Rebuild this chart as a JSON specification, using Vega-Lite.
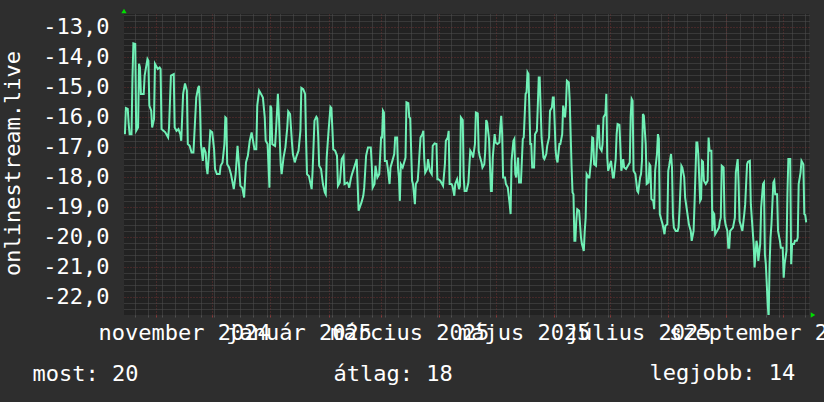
{
"$schema":"https://vega.github.io/schema/vega-lite/v6.json",
"width":685,"height":301,
"autosize":{"type":"none"},
"padding":{"left":124,"top":14,"right":15,"bottom":87},
"background":"#2e2e2e",
"config":{"view":{"fill":"#222222","stroke":null},"font":"DejaVu Sans Mono"},
"layer":[
{
"data":{"values":[
{"t":"2024-10-15T12:00","v":-16.58},{"t":"2024-10-16T00:00","v":-15.71},{"t":"2024-10-17T00:00","v":-15.74},{"t":"2024-10-17T12:00","v":-16.24},{"t":"2024-10-18T00:00","v":-16.58},{"t":"2024-10-19T00:00","v":-16.58},{"t":"2024-10-19T12:00","v":-14.74},{"t":"2024-10-20T00:00","v":-13.56},{"t":"2024-10-21T00:00","v":-13.58},{"t":"2024-10-21T12:00","v":-16.47},{"t":"2024-10-22T12:00","v":-16.36},{"t":"2024-10-23T00:00","v":-14.24},{"t":"2024-10-23T12:00","v":-14.36},{"t":"2024-10-24T00:00","v":-15.24},{"t":"2024-10-25T12:00","v":-15.24},{"t":"2024-10-26T00:00","v":-14.63},{"t":"2024-10-27T12:00","v":-14.08},{"t":"2024-10-28T00:00","v":-14.14},{"t":"2024-10-28T12:00","v":-15.63},{"t":"2024-10-29T12:00","v":-15.8},{"t":"2024-10-30T00:00","v":-16.36},{"t":"2024-10-31T00:00","v":-16.08},{"t":"2024-10-31T12:00","v":-14.24},{"t":"2024-11-02T00:00","v":-14.41},{"t":"2024-11-03T00:00","v":-14.36},{"t":"2024-11-03T12:00","v":-14.41},{"t":"2024-11-04T00:00","v":-16.41},{"t":"2024-11-06T00:00","v":-16.52},{"t":"2024-11-07T12:00","v":-16.69},{"t":"2024-11-08T00:00","v":-16.36},{"t":"2024-11-09T00:00","v":-14.63},{"t":"2024-11-10T12:00","v":-14.58},{"t":"2024-11-11T00:00","v":-16.36},{"t":"2024-11-12T00:00","v":-16.47},{"t":"2024-11-13T00:00","v":-16.41},{"t":"2024-11-14T00:00","v":-16.58},{"t":"2024-11-14T12:00","v":-16.8},{"t":"2024-11-15T12:00","v":-15.24},{"t":"2024-11-16T12:00","v":-14.89},{"t":"2024-11-17T12:00","v":-15.13},{"t":"2024-11-18T00:00","v":-16.91},{"t":"2024-11-19T00:00","v":-16.97},{"t":"2024-11-20T00:00","v":-17.19},{"t":"2024-11-21T00:00","v":-17.19},{"t":"2024-11-22T12:00","v":-15.36},{"t":"2024-11-23T12:00","v":-15.04},{"t":"2024-11-24T00:00","v":-14.97},{"t":"2024-11-24T12:00","v":-15.69},{"t":"2024-11-25T00:00","v":-16.91},{"t":"2024-11-26T00:00","v":-17.47},{"t":"2024-11-26T12:00","v":-17.02},{"t":"2024-11-27T12:00","v":-17.19},{"t":"2024-11-28T00:00","v":-17.69},{"t":"2024-11-28T12:00","v":-17.91},{"t":"2024-11-29T00:00","v":-17.47},{"t":"2024-11-30T00:00","v":-16.47},{"t":"2024-12-01T00:00","v":-16.52},{"t":"2024-12-02T00:00","v":-17.08},{"t":"2024-12-02T12:00","v":-17.74},{"t":"2024-12-03T12:00","v":-17.91},{"t":"2024-12-05T00:00","v":-17.91},{"t":"2024-12-05T12:00","v":-17.63},{"t":"2024-12-06T12:00","v":-17.52},{"t":"2024-12-07T12:00","v":-16.91},{"t":"2024-12-08T00:00","v":-16.02},{"t":"2024-12-08T12:00","v":-16.05},{"t":"2024-12-09T00:00","v":-17.58},{"t":"2024-12-10T00:00","v":-17.69},{"t":"2024-12-11T00:00","v":-17.91},{"t":"2024-12-12T12:00","v":-18.41},{"t":"2024-12-13T12:00","v":-17.91},{"t":"2024-12-14T12:00","v":-16.97},{"t":"2024-12-15T12:00","v":-17.8},{"t":"2024-12-16T00:00","v":-18.3},{"t":"2024-12-17T00:00","v":-18.36},{"t":"2024-12-18T00:00","v":-18.69},{"t":"2024-12-19T00:00","v":-17.52},{"t":"2024-12-20T00:00","v":-17.3},{"t":"2024-12-21T00:00","v":-16.8},{"t":"2024-12-22T00:00","v":-16.52},{"t":"2024-12-23T12:00","v":-17.08},{"t":"2024-12-24T12:00","v":-17.08},{"t":"2024-12-25T00:00","v":-15.63},{"t":"2024-12-26T00:00","v":-15.13},{"t":"2024-12-27T00:00","v":-15.24},{"t":"2024-12-28T00:00","v":-15.36},{"t":"2024-12-29T00:00","v":-16.02},{"t":"2024-12-29T12:00","v":-16.8},{"t":"2024-12-30T12:00","v":-16.91},{"t":"2024-12-31T12:00","v":-18.36},
{"t":"2025-01-01T00:00","v":-15.63},{"t":"2025-01-01T12:00","v":-15.71},{"t":"2025-01-02T00:00","v":-16.91},{"t":"2025-01-03T12:00","v":-16.97},{"t":"2025-01-04T00:00","v":-16.47},{"t":"2025-01-05T00:00","v":-15.24},{"t":"2025-01-05T12:00","v":-15.91},{"t":"2025-01-06T12:00","v":-17.58},{"t":"2025-01-07T00:00","v":-17.91},{"t":"2025-01-08T00:00","v":-17.36},{"t":"2025-01-09T00:00","v":-17.02},{"t":"2025-01-10T00:00","v":-16.36},{"t":"2025-01-10T12:00","v":-15.82},{"t":"2025-01-11T12:00","v":-15.91},{"t":"2025-01-12T12:00","v":-16.86},{"t":"2025-01-13T00:00","v":-17.24},{"t":"2025-01-14T00:00","v":-17.52},{"t":"2025-01-15T00:00","v":-17.3},{"t":"2025-01-16T00:00","v":-17.13},{"t":"2025-01-17T00:00","v":-16.47},{"t":"2025-01-17T12:00","v":-15.04},{"t":"2025-01-18T12:00","v":-15.08},{"t":"2025-01-19T12:00","v":-15.24},{"t":"2025-01-20T00:00","v":-16.69},{"t":"2025-01-20T12:00","v":-17.91},{"t":"2025-01-21T12:00","v":-17.97},{"t":"2025-01-23T00:00","v":-18.41},{"t":"2025-01-23T12:00","v":-17.8},{"t":"2025-01-24T12:00","v":-16.13},{"t":"2025-01-25T12:00","v":-16.0},{"t":"2025-01-26T00:00","v":-16.05},{"t":"2025-01-26T12:00","v":-16.69},{"t":"2025-01-27T00:00","v":-17.63},{"t":"2025-01-28T00:00","v":-17.74},{"t":"2025-01-29T00:00","v":-18.24},{"t":"2025-01-30T00:00","v":-18.52},{"t":"2025-01-30T12:00","v":-18.58},{"t":"2025-01-31T00:00","v":-17.36},{"t":"2025-02-01T00:00","v":-16.47},{"t":"2025-02-02T00:00","v":-15.67},{"t":"2025-02-02T12:00","v":-15.71},{"t":"2025-02-03T00:00","v":-16.36},{"t":"2025-02-03T12:00","v":-17.08},{"t":"2025-02-04T12:00","v":-17.13},{"t":"2025-02-05T12:00","v":-17.3},{"t":"2025-02-06T00:00","v":-18.3},{"t":"2025-02-07T00:00","v":-18.19},{"t":"2025-02-08T00:00","v":-17.41},{"t":"2025-02-09T00:00","v":-17.3},{"t":"2025-02-09T12:00","v":-18.24},{"t":"2025-02-11T00:00","v":-18.19},{"t":"2025-02-11T12:00","v":-18.24},{"t":"2025-02-12T00:00","v":-18.36},{"t":"2025-02-13T00:00","v":-18.02},{"t":"2025-02-13T12:00","v":-17.91},{"t":"2025-02-15T12:00","v":-17.52},{"t":"2025-02-16T00:00","v":-17.41},{"t":"2025-02-16T12:00","v":-18.24},{"t":"2025-02-17T00:00","v":-19.13},{"t":"2025-02-18T12:00","v":-18.86},{"t":"2025-02-19T12:00","v":-18.63},{"t":"2025-02-20T00:00","v":-18.36},{"t":"2025-02-21T00:00","v":-17.3},{"t":"2025-02-22T00:00","v":-17.02},{"t":"2025-02-23T12:00","v":-17.02},{"t":"2025-02-24T00:00","v":-17.58},{"t":"2025-02-24T12:00","v":-18.36},{"t":"2025-02-25T12:00","v":-18.24},{"t":"2025-02-26T00:00","v":-17.63},{"t":"2025-02-27T00:00","v":-18.02},{"t":"2025-02-28T00:00","v":-17.91},
{"t":"2025-03-01T00:00","v":-16.69},{"t":"2025-03-01T12:00","v":-16.69},{"t":"2025-03-02T00:00","v":-15.8},{"t":"2025-03-02T12:00","v":-15.86},{"t":"2025-03-03T00:00","v":-17.47},{"t":"2025-03-04T00:00","v":-17.47},{"t":"2025-03-04T12:00","v":-17.69},{"t":"2025-03-05T12:00","v":-18.24},{"t":"2025-03-06T00:00","v":-17.69},{"t":"2025-03-07T00:00","v":-17.47},{"t":"2025-03-08T00:00","v":-17.24},{"t":"2025-03-08T12:00","v":-16.69},{"t":"2025-03-09T12:00","v":-16.69},{"t":"2025-03-10T00:00","v":-17.69},{"t":"2025-03-10T12:00","v":-18.02},{"t":"2025-03-11T00:00","v":-18.8},{"t":"2025-03-11T12:00","v":-17.58},{"t":"2025-03-12T12:00","v":-17.69},{"t":"2025-03-13T00:00","v":-17.58},{"t":"2025-03-14T00:00","v":-17.36},{"t":"2025-03-14T12:00","v":-15.52},{"t":"2025-03-15T12:00","v":-15.55},{"t":"2025-03-16T00:00","v":-16.02},{"t":"2025-03-16T12:00","v":-16.05},{"t":"2025-03-17T12:00","v":-18.13},{"t":"2025-03-18T00:00","v":-18.24},{"t":"2025-03-19T00:00","v":-18.91},{"t":"2025-03-19T12:00","v":-18.24},{"t":"2025-03-20T12:00","v":-18.13},{"t":"2025-03-21T00:00","v":-17.69},{"t":"2025-03-22T00:00","v":-16.69},{"t":"2025-03-23T00:00","v":-16.58},{"t":"2025-03-23T12:00","v":-16.47},{"t":"2025-03-24T00:00","v":-17.41},{"t":"2025-03-24T12:00","v":-17.86},{"t":"2025-03-25T12:00","v":-17.74},{"t":"2025-03-26T00:00","v":-17.41},{"t":"2025-03-27T00:00","v":-17.8},{"t":"2025-03-28T00:00","v":-17.91},{"t":"2025-03-28T12:00","v":-16.97},{"t":"2025-03-29T12:00","v":-16.89},{"t":"2025-03-30T12:00","v":-16.91},{"t":"2025-03-31T00:00","v":-18.08},{"t":"2025-03-31T12:00","v":-18.08},{"t":"2025-04-01T12:00","v":-18.13},{"t":"2025-04-02T12:00","v":-18.24},{"t":"2025-04-03T00:00","v":-18.3},{"t":"2025-04-04T00:00","v":-17.58},{"t":"2025-04-04T12:00","v":-16.8},{"t":"2025-04-05T12:00","v":-16.69},{"t":"2025-04-06T00:00","v":-16.47},{"t":"2025-04-06T12:00","v":-18.24},{"t":"2025-04-07T12:00","v":-18.24},{"t":"2025-04-08T00:00","v":-18.3},{"t":"2025-04-09T00:00","v":-18.63},{"t":"2025-04-09T12:00","v":-18.24},{"t":"2025-04-10T12:00","v":-18.08},{"t":"2025-04-11T12:00","v":-18.41},{"t":"2025-04-12T00:00","v":-18.3},{"t":"2025-04-12T12:00","v":-16.02},{"t":"2025-04-13T12:00","v":-16.11},{"t":"2025-04-14T00:00","v":-18.02},{"t":"2025-04-14T12:00","v":-18.47},{"t":"2025-04-15T12:00","v":-18.47},{"t":"2025-04-16T12:00","v":-18.19},{"t":"2025-04-17T12:00","v":-17.13},{"t":"2025-04-18T12:00","v":-17.24},{"t":"2025-04-19T00:00","v":-17.36},{"t":"2025-04-20T00:00","v":-16.91},{"t":"2025-04-20T12:00","v":-15.86},{"t":"2025-04-21T12:00","v":-15.89},{"t":"2025-04-22T00:00","v":-17.13},{"t":"2025-04-22T12:00","v":-17.3},{"t":"2025-04-23T12:00","v":-17.52},{"t":"2025-04-24T00:00","v":-17.69},{"t":"2025-04-25T00:00","v":-17.58},{"t":"2025-04-25T12:00","v":-17.13},{"t":"2025-04-26T00:00","v":-16.11},{"t":"2025-04-26T12:00","v":-16.19},{"t":"2025-04-27T12:00","v":-16.74},{"t":"2025-04-28T00:00","v":-17.58},{"t":"2025-04-28T12:00","v":-18.47},{"t":"2025-04-29T00:00","v":-18.47},{"t":"2025-04-29T12:00","v":-17.36},{"t":"2025-04-30T12:00","v":-16.58},
{"t":"2025-05-01T00:00","v":-16.86},{"t":"2025-05-02T00:00","v":-16.91},{"t":"2025-05-03T00:00","v":-16.86},{"t":"2025-05-03T12:00","v":-16.36},{"t":"2025-05-04T00:00","v":-15.97},{"t":"2025-05-04T12:00","v":-16.58},{"t":"2025-05-05T00:00","v":-18.02},{"t":"2025-05-06T00:00","v":-18.02},{"t":"2025-05-06T12:00","v":-18.24},{"t":"2025-05-07T12:00","v":-18.36},{"t":"2025-05-08T12:00","v":-18.91},{"t":"2025-05-09T00:00","v":-19.24},{"t":"2025-05-09T12:00","v":-17.47},{"t":"2025-05-10T12:00","v":-16.8},{"t":"2025-05-11T00:00","v":-16.74},{"t":"2025-05-11T12:00","v":-17.91},{"t":"2025-05-12T00:00","v":-18.02},{"t":"2025-05-13T00:00","v":-17.36},{"t":"2025-05-13T12:00","v":-18.19},{"t":"2025-05-14T12:00","v":-18.19},{"t":"2025-05-15T12:00","v":-16.74},{"t":"2025-05-16T00:00","v":-16.69},{"t":"2025-05-17T00:00","v":-15.24},{"t":"2025-05-17T12:00","v":-15.19},{"t":"2025-05-18T00:00","v":-14.52},{"t":"2025-05-18T12:00","v":-14.58},{"t":"2025-05-19T12:00","v":-16.91},{"t":"2025-05-20T00:00","v":-16.91},{"t":"2025-05-20T12:00","v":-17.69},{"t":"2025-05-21T12:00","v":-17.69},{"t":"2025-05-22T00:00","v":-16.58},{"t":"2025-05-23T00:00","v":-16.47},{"t":"2025-05-23T12:00","v":-15.63},{"t":"2025-05-24T00:00","v":-14.69},{"t":"2025-05-24T12:00","v":-14.69},{"t":"2025-05-25T12:00","v":-16.69},{"t":"2025-05-26T12:00","v":-17.36},{"t":"2025-05-27T00:00","v":-17.41},{"t":"2025-05-28T00:00","v":-17.24},{"t":"2025-05-28T12:00","v":-16.97},{"t":"2025-05-29T12:00","v":-16.69},{"t":"2025-05-30T00:00","v":-15.8},{"t":"2025-05-31T00:00","v":-15.69},{"t":"2025-05-31T12:00","v":-15.36},{"t":"2025-06-01T00:00","v":-15.36},{"t":"2025-06-02T00:00","v":-17.13},{"t":"2025-06-02T12:00","v":-17.41},{"t":"2025-06-03T00:00","v":-17.52},{"t":"2025-06-04T00:00","v":-16.91},{"t":"2025-06-04T12:00","v":-16.91},{"t":"2025-06-05T12:00","v":-16.58},{"t":"2025-06-06T00:00","v":-15.63},{"t":"2025-06-07T00:00","v":-16.02},{"t":"2025-06-07T12:00","v":-15.63},{"t":"2025-06-08T00:00","v":-14.8},{"t":"2025-06-09T00:00","v":-14.86},{"t":"2025-06-09T12:00","v":-15.47},{"t":"2025-06-10T12:00","v":-17.69},{"t":"2025-06-11T00:00","v":-18.52},{"t":"2025-06-11T12:00","v":-18.58},{"t":"2025-06-12T00:00","v":-20.13},{"t":"2025-06-12T12:00","v":-20.13},{"t":"2025-06-13T00:00","v":-19.47},{"t":"2025-06-13T12:00","v":-19.08},{"t":"2025-06-14T12:00","v":-19.13},{"t":"2025-06-15T12:00","v":-20.02},{"t":"2025-06-16T00:00","v":-20.24},{"t":"2025-06-17T00:00","v":-20.47},{"t":"2025-06-17T12:00","v":-19.8},{"t":"2025-06-18T00:00","v":-19.36},{"t":"2025-06-18T12:00","v":-17.91},{"t":"2025-06-19T12:00","v":-18.02},{"t":"2025-06-20T00:00","v":-18.02},{"t":"2025-06-21T00:00","v":-17.36},{"t":"2025-06-21T12:00","v":-16.69},{"t":"2025-06-22T00:00","v":-16.71},{"t":"2025-06-22T12:00","v":-17.58},{"t":"2025-06-23T12:00","v":-17.63},{"t":"2025-06-24T12:00","v":-16.3},{"t":"2025-06-25T00:00","v":-16.3},{"t":"2025-06-25T12:00","v":-17.02},{"t":"2025-06-26T12:00","v":-17.13},{"t":"2025-06-27T00:00","v":-16.91},{"t":"2025-06-27T12:00","v":-16.02},{"t":"2025-06-28T12:00","v":-15.91},{"t":"2025-06-29T00:00","v":-15.24},{"t":"2025-06-29T12:00","v":-17.36},{"t":"2025-06-30T00:00","v":-17.8},
{"t":"2025-07-01T00:00","v":-17.58},{"t":"2025-07-01T12:00","v":-17.47},{"t":"2025-07-02T12:00","v":-18.02},{"t":"2025-07-03T00:00","v":-18.02},{"t":"2025-07-04T00:00","v":-17.41},{"t":"2025-07-04T12:00","v":-16.58},{"t":"2025-07-05T00:00","v":-16.24},{"t":"2025-07-06T00:00","v":-16.27},{"t":"2025-07-06T12:00","v":-17.02},{"t":"2025-07-07T00:00","v":-17.8},{"t":"2025-07-08T00:00","v":-17.41},{"t":"2025-07-08T12:00","v":-17.69},{"t":"2025-07-09T12:00","v":-17.74},{"t":"2025-07-10T12:00","v":-17.63},{"t":"2025-07-11T12:00","v":-17.52},{"t":"2025-07-12T00:00","v":-15.97},{"t":"2025-07-12T12:00","v":-15.41},{"t":"2025-07-13T00:00","v":-15.47},{"t":"2025-07-13T12:00","v":-17.8},{"t":"2025-07-14T12:00","v":-17.91},{"t":"2025-07-15T12:00","v":-18.47},{"t":"2025-07-16T00:00","v":-18.52},{"t":"2025-07-17T00:00","v":-18.02},{"t":"2025-07-17T12:00","v":-17.91},{"t":"2025-07-18T00:00","v":-17.47},{"t":"2025-07-18T12:00","v":-15.91},{"t":"2025-07-19T00:00","v":-15.97},{"t":"2025-07-20T00:00","v":-16.91},{"t":"2025-07-20T12:00","v":-18.24},{"t":"2025-07-21T12:00","v":-18.19},{"t":"2025-07-22T00:00","v":-17.58},{"t":"2025-07-22T12:00","v":-17.63},{"t":"2025-07-23T00:00","v":-18.74},{"t":"2025-07-24T00:00","v":-18.8},{"t":"2025-07-24T12:00","v":-19.08},{"t":"2025-07-25T00:00","v":-17.8},{"t":"2025-07-26T00:00","v":-17.24},{"t":"2025-07-26T12:00","v":-16.58},{"t":"2025-07-27T00:00","v":-16.74},{"t":"2025-07-27T12:00","v":-19.24},{"t":"2025-07-28T12:00","v":-19.47},{"t":"2025-07-29T00:00","v":-19.58},{"t":"2025-07-30T00:00","v":-19.91},{"t":"2025-07-30T12:00","v":-19.63},{"t":"2025-07-31T12:00","v":-19.58},{"t":"2025-08-01T00:00","v":-17.8},{"t":"2025-08-01T12:00","v":-17.63},{"t":"2025-08-02T12:00","v":-17.24},{"t":"2025-08-03T00:00","v":-17.69},{"t":"2025-08-03T12:00","v":-19.3},{"t":"2025-08-04T00:00","v":-19.69},{"t":"2025-08-05T00:00","v":-19.8},{"t":"2025-08-06T00:00","v":-19.8},{"t":"2025-08-06T12:00","v":-19.69},{"t":"2025-08-07T00:00","v":-19.13},{"t":"2025-08-08T00:00","v":-17.63},{"t":"2025-08-08T12:00","v":-17.69},{"t":"2025-08-09T12:00","v":-18.02},{"t":"2025-08-10T00:00","v":-18.69},{"t":"2025-08-11T00:00","v":-19.13},{"t":"2025-08-11T12:00","v":-19.36},{"t":"2025-08-12T00:00","v":-19.58},{"t":"2025-08-13T00:00","v":-19.8},{"t":"2025-08-13T12:00","v":-20.13},{"t":"2025-08-14T12:00","v":-19.8},{"t":"2025-08-15T00:00","v":-18.91},{"t":"2025-08-16T00:00","v":-16.86},{"t":"2025-08-16T12:00","v":-16.86},{"t":"2025-08-17T00:00","v":-17.24},{"t":"2025-08-18T00:00","v":-18.8},{"t":"2025-08-18T12:00","v":-18.74},{"t":"2025-08-19T00:00","v":-17.47},{"t":"2025-08-19T12:00","v":-17.5},{"t":"2025-08-20T00:00","v":-18.13},{"t":"2025-08-21T00:00","v":-18.24},{"t":"2025-08-22T00:00","v":-18.13},{"t":"2025-08-22T12:00","v":-16.69},{"t":"2025-08-23T00:00","v":-17.13},{"t":"2025-08-24T00:00","v":-17.13},{"t":"2025-08-24T12:00","v":-19.8},{"t":"2025-08-25T00:00","v":-19.19},{"t":"2025-08-25T12:00","v":-19.24},{"t":"2025-08-26T00:00","v":-19.91},{"t":"2025-08-27T00:00","v":-19.8},{"t":"2025-08-28T00:00","v":-19.69},{"t":"2025-08-28T12:00","v":-19.47},{"t":"2025-08-29T00:00","v":-19.36},{"t":"2025-08-29T12:00","v":-17.63},{"t":"2025-08-30T12:00","v":-17.69},{"t":"2025-08-31T00:00","v":-19.36},{"t":"2025-08-31T12:00","v":-19.58},
{"t":"2025-09-01T12:00","v":-19.8},{"t":"2025-09-02T00:00","v":-20.36},{"t":"2025-09-02T12:00","v":-20.36},{"t":"2025-09-03T00:00","v":-19.8},{"t":"2025-09-04T12:00","v":-19.69},{"t":"2025-09-05T12:00","v":-19.36},{"t":"2025-09-06T00:00","v":-17.86},{"t":"2025-09-07T00:00","v":-17.41},{"t":"2025-09-07T12:00","v":-18.24},{"t":"2025-09-08T00:00","v":-19.47},{"t":"2025-09-09T00:00","v":-19.69},{"t":"2025-09-09T12:00","v":-19.8},{"t":"2025-09-10T12:00","v":-19.24},{"t":"2025-09-11T00:00","v":-18.91},{"t":"2025-09-12T00:00","v":-17.58},{"t":"2025-09-12T12:00","v":-17.5},{"t":"2025-09-13T12:00","v":-17.47},{"t":"2025-09-14T00:00","v":-18.91},{"t":"2025-09-15T00:00","v":-19.8},{"t":"2025-09-15T12:00","v":-20.24},{"t":"2025-09-16T00:00","v":-21.02},{"t":"2025-09-17T00:00","v":-20.13},{"t":"2025-09-17T12:00","v":-20.3},{"t":"2025-09-18T00:00","v":-20.8},{"t":"2025-09-19T00:00","v":-20.24},{"t":"2025-09-19T12:00","v":-19.02},{"t":"2025-09-20T12:00","v":-18.24},{"t":"2025-09-21T00:00","v":-18.19},{"t":"2025-09-21T12:00","v":-20.58},{"t":"2025-09-22T00:00","v":-20.91},{"t":"2025-09-23T00:00","v":-22.24},{"t":"2025-09-23T12:00","v":-22.69},{"t":"2025-09-24T00:00","v":-20.91},{"t":"2025-09-24T12:00","v":-20.02},{"t":"2025-09-25T00:00","v":-19.58},{"t":"2025-09-26T00:00","v":-18.19},{"t":"2025-09-26T12:00","v":-18.13},{"t":"2025-09-27T00:00","v":-18.58},{"t":"2025-09-28T00:00","v":-18.58},{"t":"2025-09-28T12:00","v":-19.8},{"t":"2025-09-29T12:00","v":-20.13},{"t":"2025-09-30T00:00","v":-20.36},{"t":"2025-10-01T00:00","v":-20.36},{"t":"2025-10-01T12:00","v":-21.36},{"t":"2025-10-02T00:00","v":-20.91},{"t":"2025-10-03T00:00","v":-20.47},{"t":"2025-10-03T12:00","v":-18.58},{"t":"2025-10-04T00:00","v":-17.41},{"t":"2025-10-05T00:00","v":-17.41},{"t":"2025-10-05T12:00","v":-20.91},{"t":"2025-10-06T00:00","v":-20.24},{"t":"2025-10-07T00:00","v":-20.24},{"t":"2025-10-07T12:00","v":-20.13},{"t":"2025-10-08T12:00","v":-20.13},{"t":"2025-10-09T00:00","v":-20.02},{"t":"2025-10-09T12:00","v":-18.24},{"t":"2025-10-10T12:00","v":-17.86},{"t":"2025-10-11T00:00","v":-17.47},{"t":"2025-10-12T00:00","v":-17.58},{"t":"2025-10-12T12:00","v":-19.24},{"t":"2025-10-13T00:00","v":-19.27},{"t":"2025-10-13T12:00","v":-19.52}
]},
"mark":{"type":"line","color":"#70f0b6","strokeWidth":2,"clip":true},
"encoding":{
"x":{"field":"t","type":"temporal","scale":{"domain":[{"year":2024,"month":10,"date":15},{"year":2025,"month":10,"date":15}],"nice":false},
"axis":{"orient":"bottom","values":[{"year":2024,"month":10,"date":21},{"year":2024,"month":10,"date":28},{"year":2024,"month":11,"date":4},{"year":2024,"month":11,"date":11},{"year":2024,"month":11,"date":18},{"year":2024,"month":11,"date":25},{"year":2024,"month":12,"date":2},{"year":2024,"month":12,"date":9},{"year":2024,"month":12,"date":16},{"year":2024,"month":12,"date":23},{"year":2024,"month":12,"date":30},{"year":2025,"month":1,"date":6},{"year":2025,"month":1,"date":13},{"year":2025,"month":1,"date":20},{"year":2025,"month":1,"date":27},{"year":2025,"month":2,"date":3},{"year":2025,"month":2,"date":10},{"year":2025,"month":2,"date":17},{"year":2025,"month":2,"date":24},{"year":2025,"month":3,"date":3},{"year":2025,"month":3,"date":10},{"year":2025,"month":3,"date":17},{"year":2025,"month":3,"date":24},{"year":2025,"month":3,"date":31},{"year":2025,"month":4,"date":7},{"year":2025,"month":4,"date":14},{"year":2025,"month":4,"date":21},{"year":2025,"month":4,"date":28},{"year":2025,"month":5,"date":5},{"year":2025,"month":5,"date":12},{"year":2025,"month":5,"date":19},{"year":2025,"month":5,"date":26},{"year":2025,"month":6,"date":2},{"year":2025,"month":6,"date":9},{"year":2025,"month":6,"date":16},{"year":2025,"month":6,"date":23},{"year":2025,"month":6,"date":30},{"year":2025,"month":7,"date":7},{"year":2025,"month":7,"date":14},{"year":2025,"month":7,"date":21},{"year":2025,"month":7,"date":28},{"year":2025,"month":8,"date":4},{"year":2025,"month":8,"date":11},{"year":2025,"month":8,"date":18},{"year":2025,"month":8,"date":25},{"year":2025,"month":9,"date":1},{"year":2025,"month":9,"date":8},{"year":2025,"month":9,"date":15},{"year":2025,"month":9,"date":22},{"year":2025,"month":9,"date":29},{"year":2025,"month":10,"date":6},{"year":2025,"month":10,"date":13}],
"grid":true,"gridColor":"#505050","gridDash":[1,1],"gridOpacity":1,"labels":false,"ticks":true,"tickSize":2,"tickColor":"#505050","domain":false,
"title":"most: 20","titleFont":"DejaVu Sans Mono","titleFontSize":22,"titleFontWeight":"normal","titleColor":"#ffffff","titleAlign":"left","titleBaseline":"middle","titleX":-92,"titleY":58}},
"y":{"field":"v","type":"quantitative","scale":{"domain":[-22.6,-12.58],"nice":false,"zero":false},
"axis":{"orient":"left","values":[-22.4,-22.2,-21.8,-21.6,-21.4,-21.2,-20.8,-20.6,-20.4,-20.2,-19.8,-19.6,-19.4,-19.2,-18.8,-18.6,-18.4,-18.2,-17.8,-17.6,-17.4,-17.2,-16.8,-16.6,-16.4,-16.2,-15.8,-15.6,-15.4,-15.2,-14.8,-14.6,-14.4,-14.2,-13.8,-13.6,-13.4,-13.2,-12.8,-12.6],
"grid":true,"gridColor":"#505050","gridDash":[1,1],"gridOpacity":1,"labels":false,"ticks":false,"domain":false,"title":null}}
}
},
{
"data":{"values":[{"t":"2024-10-15T00:00","v":-12.58}]},
"mark":{"type":"point","shape":"triangle-up","filled":true,"color":"#00dd00","opacity":1,"size":28,"yOffset":-3,"strokeWidth":0},
"encoding":{
"x":{"field":"t","type":"temporal","scale":{"domain":[{"year":2024,"month":10,"date":15},{"year":2025,"month":10,"date":15}],"nice":false},
"axis":{"orient":"bottom","values":[{"year":2024,"month":11,"date":1},{"year":2024,"month":12,"date":1},{"year":2025,"month":1,"date":1},{"year":2025,"month":2,"date":1},{"year":2025,"month":3,"date":1},{"year":2025,"month":4,"date":1},{"year":2025,"month":5,"date":1},{"year":2025,"month":6,"date":1},{"year":2025,"month":7,"date":1},{"year":2025,"month":8,"date":1},{"year":2025,"month":9,"date":1},{"year":2025,"month":10,"date":1}],
"grid":true,"gridColor":"#6a3030","gridDash":[1,2],"gridOpacity":1,"labels":false,"ticks":true,"tickSize":2,"tickColor":"#8a3a3a","domain":false,
"title":"átlag: 18","titleFont":"DejaVu Sans Mono","titleFontSize":22,"titleFontWeight":"normal","titleColor":"#ffffff","titleAlign":"left","titleBaseline":"middle","titleX":209,"titleY":58}},
"y":{"field":"v","type":"quantitative","scale":{"domain":[-22.6,-12.58],"nice":false,"zero":false},
"axis":{"orient":"left","values":[-22,-21,-20,-19,-18,-17,-16,-15,-14,-13],
"grid":true,"gridColor":"#6a3030","gridDash":[1,2],"gridOpacity":1,"ticks":false,"domain":false,
"labelExpr":"'-' + replace(format(abs(datum.value), '.1f'), '.', ',')","labelFont":"DejaVu Sans Mono","labelFontSize":22,"labelColor":"#ffffff","labelPadding":15,"labelAlign":"right","labelBaseline":"middle",
"title":"onlinestream.live","titleFont":"DejaVu Sans Mono","titleFontSize":22,"titleFontWeight":"normal","titleColor":"#ffffff","titleAngle":270,"titleAlign":"center","titleBaseline":"alphabetic","titleX":-105,"titleY":149}}
}
},
{
"data":{"values":[{"t":"2025-10-15T00:00","v":-22.6}]},
"mark":{"type":"point","shape":"triangle-right","filled":true,"color":"#00dd00","opacity":1,"size":28,"xOffset":4,"strokeWidth":0},
"encoding":{
"x":{"field":"t","type":"temporal","scale":{"domain":[{"year":2024,"month":10,"date":15},{"year":2025,"month":10,"date":15}],"nice":false},
"axis":{"orient":"bottom","values":[{"year":2024,"month":11,"date":16},{"year":2025,"month":1,"date":16},{"year":2025,"month":3,"date":16},{"year":2025,"month":5,"date":16},{"year":2025,"month":7,"date":16},{"year":2025,"month":9,"date":16}],
"labelExpr":"['január','február','március','április','május','június','július','augusztus','szeptember','október','november','december'][month(datum.value)] + ' ' + year(datum.value)",
"grid":false,"ticks":false,"domain":false,"labelFont":"DejaVu Sans Mono","labelFontSize":22,"labelColor":"#ffffff","labelAlign":"center","labelBaseline":"alphabetic","labelPadding":24,"labelOverlap":false,"labelBound":false,"labelFlush":false,
"title":"legjobb: 14","titleFont":"DejaVu Sans Mono","titleFontSize":22,"titleFontWeight":"normal","titleColor":"#ffffff","titleAlign":"left","titleBaseline":"middle","titleX":525,"titleY":57}},
"y":{"field":"v","type":"quantitative","scale":{"domain":[-22.6,-12.58],"nice":false,"zero":false},"axis":null}
}
}
],
"resolve":{"axis":{"x":"independent","y":"independent"}}
}
